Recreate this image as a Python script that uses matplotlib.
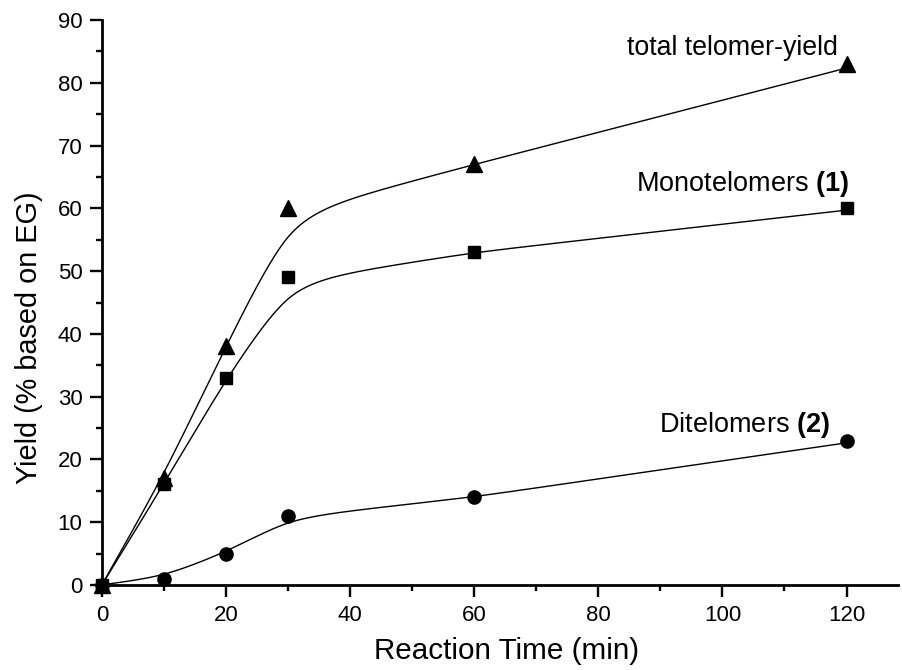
import numpy as np
import matplotlib
matplotlib.use('Agg')
import matplotlib.pyplot as plt
from matplotlib.ticker import MultipleLocator

plt.rcParams['font.family'] = ['Liberation Sans', 'DejaVu Sans']
plt.rcParams['mathtext.fontset'] = 'custom'
plt.rcParams['mathtext.rm'] = 'Liberation Sans'
plt.rcParams['mathtext.bf'] = 'Liberation Sans:bold'

# Reaction time (min)
time = [0, 10, 20, 30, 60, 120]
# Yield (% based on EG)
total_yield = [0, 17, 38, 60, 67, 83]
mono_yield = [0, 16, 33, 49, 53, 60]
di_yield = [0, 1, 5, 11, 14, 23]


def smooth_curve(x, y, lam2=40.0, lam1=2.5, step=0.25):
    # smoothing spline under tension, solved on a fine grid;
    # the curve is held at the origin (no yield at t = 0)
    x = np.asarray(x, float)
    y = np.asarray(y, float)
    grid = np.arange(x.min(), x.max() + step / 2, step)
    n = len(grid)
    w = np.zeros(n)
    rhs = np.zeros(n)
    for xi, yi in zip(x, y):
        k = int(round((xi - grid[0]) / step))
        wt = 100.0 if xi == 0 else 1.0
        w[k] += wt
        rhs[k] += wt * yi
    d2 = np.diff(np.eye(n), 2, axis=0)
    d1 = np.diff(np.eye(n), 1, axis=0)
    a = np.diag(w) + lam2 * d2.T @ d2 / step ** 3 + lam1 * d1.T @ d1 / step
    return grid, np.linalg.solve(a, rhs)


fig = plt.figure(figsize=(9.03, 6.70), dpi=100)
ax = fig.add_axes([0.113, 0.127, 0.8815, 0.843])

series = [
    (total_yield, '^', 11),
    (mono_yield, 's', 9),
    (di_yield, 'o', 9.5),
]
for vals, mk, ms in series:
    gx, gy = smooth_curve(time, vals)
    ax.plot(gx, gy, color='black', lw=1.0, clip_on=False)
    ax.plot(time, vals, linestyle='none', marker=mk, ms=ms, color='black',
            clip_on=False, zorder=3)

ax.text(118.6, 85.6, 'total telomer-yield', ha='right', va='center', fontsize=19.3)
ax.text(120.4, 63.9, r'Monotelomers $\mathbf{(1)}$', ha='right', va='center', fontsize=19.5)
ax.text(117.3, 25.5, r'Ditelomers $\mathbf{(2)}$', ha='right', va='center', fontsize=19.5)

ax.set_xlim(0, 128.3)
ax.set_ylim(0, 90)
ax.xaxis.set_major_locator(MultipleLocator(20))
ax.xaxis.set_minor_locator(MultipleLocator(10))
ax.yaxis.set_major_locator(MultipleLocator(10))
ax.yaxis.set_minor_locator(MultipleLocator(5))

ax.spines['top'].set_visible(False)
ax.spines['right'].set_visible(False)
for s in ('left', 'bottom'):
    ax.spines[s].set_linewidth(2.0)
ax.tick_params(which='major', direction='out', length=8.5, width=1.7,
               labelsize=16, pad=6)
ax.tick_params(which='minor', direction='out', length=4.5, width=1.7)
ax.tick_params(axis='y', which='major', pad=5.5)

ax.set_xlabel('Reaction Time (min)', fontsize=21.3)
ax.set_ylabel('Yield (% based on EG)', fontsize=20.8)
ax.xaxis.set_label_coords(0.508, -0.092)
ax.yaxis.set_label_coords(-0.074, 0.437)
ax.xaxis.label.set_verticalalignment('top')

fig.savefig('out.png', dpi=100)
